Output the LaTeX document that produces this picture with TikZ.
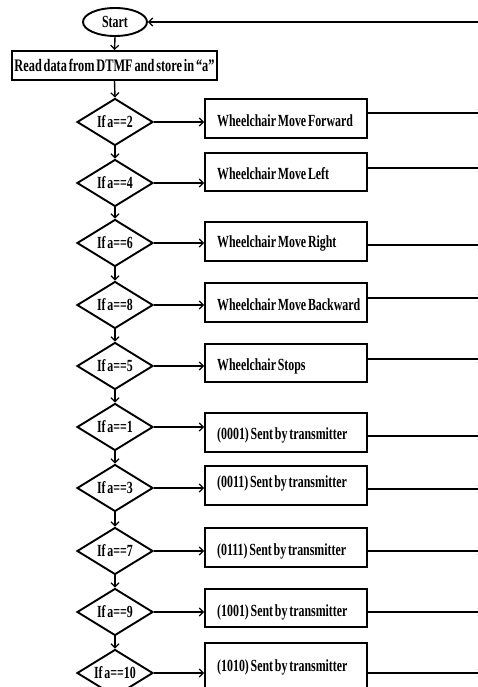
\documentclass[tikz,border=0pt]{standalone}
\usepackage{fontspec}
\setmainfont{Liberation Serif}[
  FakeStretch=0.7, WordSpace=0.6,
  BoldFeatures={FakeStretch=0.7, WordSpace=0.6}]
\usetikzlibrary{shapes.geometric,arrows.meta}

\tikzset{
  flow/.style={line width=1.4pt},
  tip/.style={-{Straight Barb[length=4pt,width=8pt,line width=1.2pt]}},
  labelfont/.style={font=\fontsize{17}{18}\selectfont\bfseries},
  startbox/.style={ellipse,draw,line width=1.9pt,minimum width=64pt,minimum height=28pt,inner sep=0pt,labelfont},
  procbox/.style={rectangle,draw,line width=1.9pt,inner sep=0pt},
  decision/.style={diamond,draw,line width=1.9pt,minimum width=76pt,minimum height=47pt,inner sep=0pt,
    label={[labelfont]center:#1}},
  boxtext/.style={anchor=west,inner sep=0pt,labelfont},
}

\begin{document}
\begin{tikzpicture}[x=1pt,y=-1pt]
\useasboundingbox (0,0) rectangle (477,687);

% start and input
\node[startbox] (start) at (115,22) {Start};
\node[procbox,minimum width=205pt,minimum height=29pt,
      font=\fontsize{17.6}{18}\selectfont\bfseries] (read) at (114.5,65.5)
      {Read data from DTMF and store in “a”};
\coordinate (back) at (490,22);
\draw[flow,tip] (back) -- (start.east);
\draw[flow,tip] (start.south) -- (read.north);

% decisions down the left column
\node[decision={If a==2}]  (d2)  at (115,122) {};
\node[decision={If a==4}]  (d4)  at (115,183) {};
\node[decision={If a==6}]  (d6)  at (115,243) {};
\node[decision={If a==8}]  (d8)  at (115,305) {};
\node[decision={If a==5}]  (d5)  at (115,366) {};
\node[decision={If a==1}]  (d1)  at (115,427) {};
\node[decision={If a==3}]  (d3)  at (115,488) {};
\node[decision={If a==7}]  (d7)  at (115,551) {};
\node[decision={If a==9}]  (d9)  at (115,612) {};
\node[decision={If a==10}] (d10) at (115,673) {};

\draw[flow,tip] (read.south) -- (d2.north);
\foreach \a/\b in {d2/d4,d4/d6,d6/d8,d8/d5,d5/d1,d1/d3,d3/d7,d7/d9,d9/d10}
  \draw[flow,tip] (\a.south) -- (\b.north);

% action boxes: name / top / bottom / text y / outgoing line y
\foreach \n/\t/\b/\ty/\oy/\txt in {
  b2/99/138/121/113/Wheelchair Move Forward,
  b4/153/191/174/168/Wheelchair Move Left,
  b6/222/261/243/245/Wheelchair Move Right,
  b8/283/322/305/298/Wheelchair Move Backward,
  b5/344/382/366/359/Wheelchair Stops,
  b1/413/452/435/436/(0001) Sent by transmitter,
  b3/466/505/483/489/(0011) Sent by transmitter,
  b7/528/567/551/551/(0111) Sent by transmitter,
  b9/589/627/612/612/(1001) Sent by transmitter,
  b10/643/695/667/673/(1010) Sent by transmitter}{
  \node[procbox,minimum width=162pt,minimum height={\b-\t}] (\n) at (286,{(\t+\b)/2}) {};
  \node[boxtext] (\n txt) at (217,\ty) {\txt};
  \coordinate (\n out) at (483,\oy);
  \draw[flow,tip] (\n.east |- 0,\oy) -- (\n out);
}

% decision to action
\foreach \d/\bx in {d2/b2,d4/b4,d6/b6,d8/b8,d5/b5,d1/b1,d3/b3,d7/b7,d9/b9,d10/b10}
  \draw[flow,tip] (\d.east) -- (\d.east -| \bx.west);
\end{tikzpicture}
\end{document}
